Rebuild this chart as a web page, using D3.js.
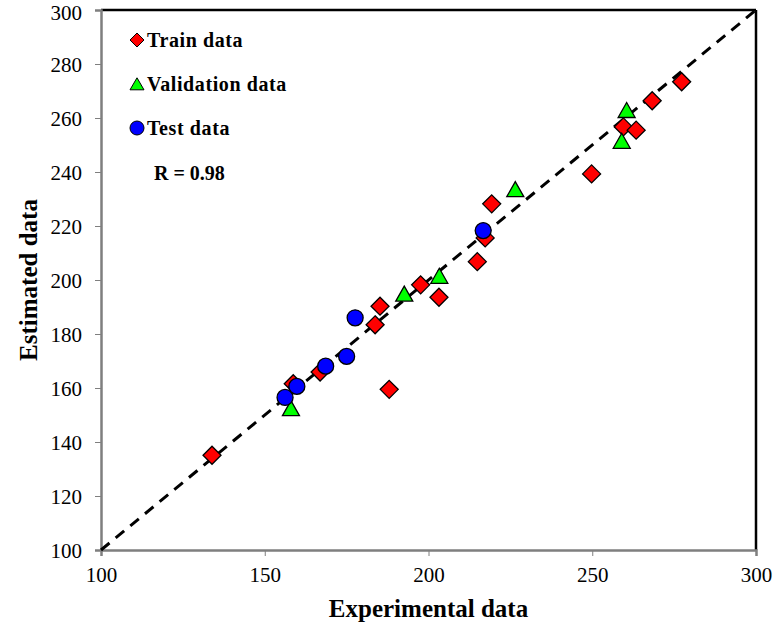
<!DOCTYPE html>
<html>
<head>
<meta charset="utf-8">
<script src="https://cdn.jsdelivr.net/npm/d3@7"></script>
<style>
  html, body { margin: 0; padding: 0; background: #fff; }
  svg { display: block; }
</style>
</head>
<body>
<div id="chart"></div>
<script>
// ---- Data ----
const trainX = [133.9, 158.7, 166.9, 183.7, 185.2, 188.0, 197.6, 203.2, 214.9, 217.3, 219.3, 249.8, 259.5, 263.4, 268.3, 277.3];
const trainY = [135.1, 161.6, 165.9, 183.4, 190.3, 159.5, 198.2, 193.6, 206.8, 215.6, 228.2, 239.3, 256.7, 255.5, 266.4, 273.4];
const validX = [158.0, 192.6, 203.3, 226.5, 259.0, 260.5];
const validY = [152.0, 194.4, 201.0, 233.1, 251.0, 262.4];
const testX = [156.2, 159.8, 168.6, 175.0, 177.6, 216.7];
const testY = [156.5, 160.6, 168.1, 171.7, 186.0, 218.3];
const xTicks = [100, 150, 200, 250, 300];
const yTicks = [100, 120, 140, 160, 180, 200, 220, 240, 260, 280, 300];
const legendLabels = ["Train data", "Validation data", "Test data"];
const rLabel = "R = 0.98";

const W = 774, H = 625;
const svg = d3.select("#chart").append("svg").attr("width", W).attr("height", H);

const x = d3.scaleLinear().domain([100, 300]).range([101, 756]);
const y = d3.scaleLinear().domain([100, 300]).range([550, 10]);

const serif = "'Liberation Serif', 'Times New Roman', serif";

// frame: top/right black
svg.append("line").attr("x1", x(100)).attr("x2", x(300)).attr("y1", y(300)).attr("y2", y(300))
  .attr("stroke", "#000").attr("stroke-width", 2.5);
svg.append("line").attr("x1", x(300)).attr("x2", x(300)).attr("y1", y(300)).attr("y2", y(100))
  .attr("stroke", "#000").attr("stroke-width", 2.5);

// axes
const xAxis = svg.append("g").attr("transform", `translate(0,${y(100)})`)
  .call(d3.axisBottom(x).tickValues(xTicks).tickSize(6).tickPadding(6).tickFormat(d3.format("d")));
const yAxis = svg.append("g").attr("transform", `translate(${x(100)},0)`)
  .call(d3.axisLeft(y).tickValues(yTicks).tickSize(6).tickPadding(13).tickFormat(d3.format("d")));
[xAxis, yAxis].forEach(g => {
  g.select(".domain").attr("stroke", "#7f7f7f").attr("stroke-width", 2.5);
  g.selectAll(".tick line").attr("stroke", "#7f7f7f").attr("stroke-width", 1);
  g.selectAll(".tick text").attr("font-family", serif).attr("font-size", 21).attr("fill", "#000");
});
yAxis.selectAll(".tick text").attr("dy", d => d === 300 ? "0.45em" : "0.35em");
xAxis.selectAll(".tick text").attr("dy", "0.95em");

// 1:1 dashed line
svg.append("line")
  .attr("x1", x(100)).attr("y1", y(100)).attr("x2", x(300)).attr("y2", y(300))
  .attr("stroke", "#000").attr("stroke-width", 3).attr("stroke-dasharray", "11,8");

// marker shapes
const diamond = (cx, cy, r) => `M${cx},${cy - r}L${cx + r},${cy}L${cx},${cy + r}L${cx - r},${cy}Z`;
const triangle = (cx, cy, w, h) => `M${cx},${cy - h * 0.6}L${cx + w / 2},${cy + h * 0.4}L${cx - w / 2},${cy + h * 0.4}Z`;

const train = trainX.map((v, i) => [v, trainY[i]]);
const valid = validX.map((v, i) => [v, validY[i]]);
const test = testX.map((v, i) => [v, testY[i]]);

svg.append("g").selectAll("path").data(train).join("path")
  .attr("d", d => diamond(x(d[0]), y(d[1]), 9))
  .attr("fill", "#ff0000").attr("stroke", "#000").attr("stroke-width", 1.3);

svg.append("g").selectAll("path").data(valid).join("path")
  .attr("d", d => triangle(x(d[0]), y(d[1]), 17, 15))
  .attr("fill", "#00ff00").attr("stroke", "#000").attr("stroke-width", 1.3);

svg.append("g").selectAll("circle").data(test).join("circle")
  .attr("cx", d => x(d[0])).attr("cy", d => y(d[1])).attr("r", 8)
  .attr("fill", "#0000ff").attr("stroke", "#000").attr("stroke-width", 1.3);

// legend
const lg = svg.append("g");
lg.append("path").attr("d", diamond(137, 40, 7)).attr("fill", "#ff0000").attr("stroke", "#000").attr("stroke-width", 1);
lg.append("path").attr("d", triangle(137, 85, 14, 12)).attr("fill", "#00ff00").attr("stroke", "#000").attr("stroke-width", 1);
lg.append("circle").attr("cx", 137).attr("cy", 128).attr("r", 7).attr("fill", "#0000ff").attr("stroke", "#000").attr("stroke-width", 1);
const ly = [47, 91, 135];
legendLabels.forEach((t, i) => {
  lg.append("text").attr("x", 147).attr("y", ly[i]).text(t)
    .attr("font-family", serif).attr("font-weight", "bold").attr("font-size", 20)
    .attr("letter-spacing", "0.6px").attr("fill", "#000");
});
lg.append("text").attr("x", 154).attr("y", 180).text(rLabel)
  .attr("font-family", serif).attr("font-weight", "bold").attr("font-size", 20).attr("fill", "#000");

// axis titles
svg.append("text").attr("x", (x(100) + x(300)) / 2).attr("y", 617).attr("text-anchor", "middle")
  .attr("font-family", serif).attr("font-weight", "bold").attr("font-size", 25).text("Experimental data");
svg.append("text").attr("transform", `translate(37,${(y(100) + y(300)) / 2}) rotate(-90)`).attr("text-anchor", "middle")
  .attr("font-family", serif).attr("font-weight", "bold").attr("font-size", 25).text("Estimated data");
</script>
</body>
</html>
